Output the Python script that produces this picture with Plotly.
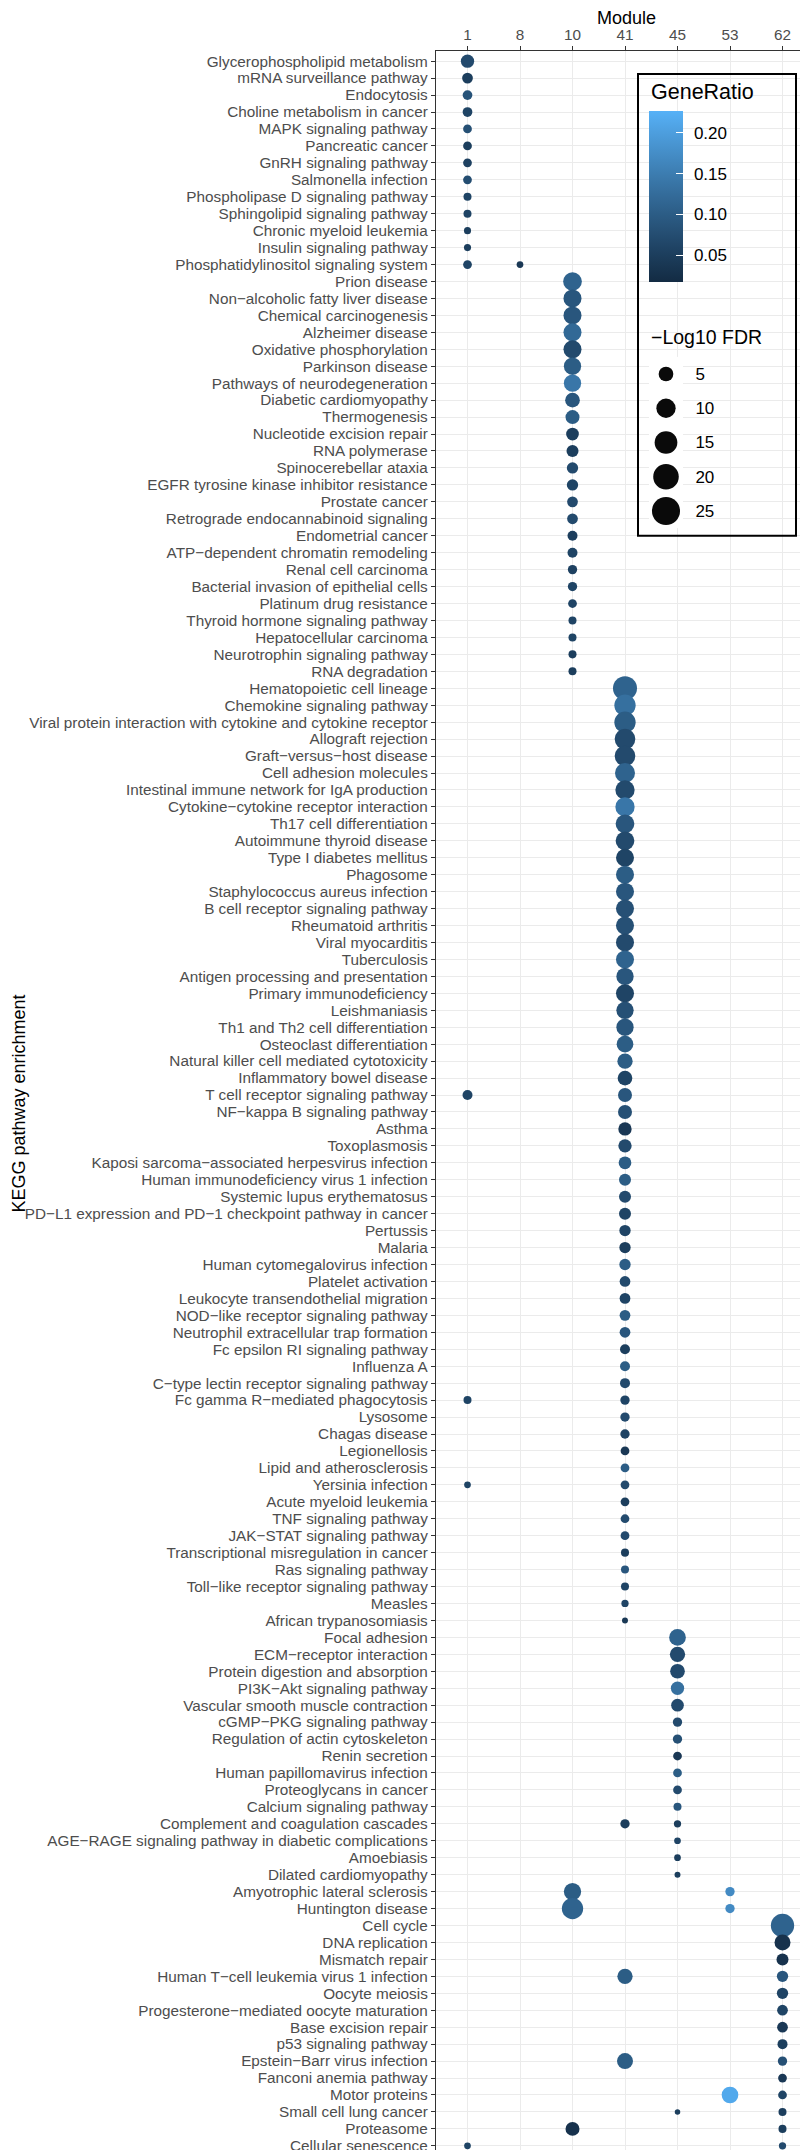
import math
import plotly.graph_objects as go

# ---------------- data ----------------
modules = ["1", "8", "10", "41", "45", "53", "62"]

pathways = [
    "Glycerophospholipid metabolism", "mRNA surveillance pathway", "Endocytosis",
    "Choline metabolism in cancer", "MAPK signaling pathway", "Pancreatic cancer",
    "GnRH signaling pathway", "Salmonella infection", "Phospholipase D signaling pathway",
    "Sphingolipid signaling pathway", "Chronic myeloid leukemia", "Insulin signaling pathway",
    "Phosphatidylinositol signaling system",
    "Prion disease", "Non-alcoholic fatty liver disease", "Chemical carcinogenesis",
    "Alzheimer disease", "Oxidative phosphorylation", "Parkinson disease",
    "Pathways of neurodegeneration", "Diabetic cardiomyopathy", "Thermogenesis",
    "Nucleotide excision repair", "RNA polymerase", "Spinocerebellar ataxia",
    "EGFR tyrosine kinase inhibitor resistance", "Prostate cancer",
    "Retrograde endocannabinoid signaling", "Endometrial cancer",
    "ATP-dependent chromatin remodeling", "Renal cell carcinoma",
    "Bacterial invasion of epithelial cells", "Platinum drug resistance",
    "Thyroid hormone signaling pathway", "Hepatocellular carcinoma",
    "Neurotrophin signaling pathway", "RNA degradation",
    "Hematopoietic cell lineage", "Chemokine signaling pathway",
    "Viral protein interaction with cytokine and cytokine receptor", "Allograft rejection",
    "Graft-versus-host disease", "Cell adhesion molecules",
    "Intestinal immune network for IgA production", "Cytokine-cytokine receptor interaction",
    "Th17 cell differentiation", "Autoimmune thyroid disease", "Type I diabetes mellitus",
    "Phagosome", "Staphylococcus aureus infection", "B cell receptor signaling pathway",
    "Rheumatoid arthritis", "Viral myocarditis", "Tuberculosis",
    "Antigen processing and presentation", "Primary immunodeficiency", "Leishmaniasis",
    "Th1 and Th2 cell differentiation", "Osteoclast differentiation",
    "Natural killer cell mediated cytotoxicity", "Inflammatory bowel disease",
    "T cell receptor signaling pathway", "NF-kappa B signaling pathway", "Asthma",
    "Toxoplasmosis", "Kaposi sarcoma-associated herpesvirus infection",
    "Human immunodeficiency virus 1 infection", "Systemic lupus erythematosus",
    "PD-L1 expression and PD-1 checkpoint pathway in cancer", "Pertussis", "Malaria",
    "Human cytomegalovirus infection", "Platelet activation",
    "Leukocyte transendothelial migration", "NOD-like receptor signaling pathway",
    "Neutrophil extracellular trap formation", "Fc epsilon RI signaling pathway",
    "Influenza A", "C-type lectin receptor signaling pathway",
    "Fc gamma R-mediated phagocytosis", "Lysosome", "Chagas disease", "Legionellosis",
    "Lipid and atherosclerosis", "Yersinia infection", "Acute myeloid leukemia",
    "TNF signaling pathway", "JAK-STAT signaling pathway",
    "Transcriptional misregulation in cancer", "Ras signaling pathway",
    "Toll-like receptor signaling pathway", "Measles", "African trypanosomiasis",
    "Focal adhesion", "ECM-receptor interaction", "Protein digestion and absorption",
    "PI3K-Akt signaling pathway", "Vascular smooth muscle contraction",
    "cGMP-PKG signaling pathway", "Regulation of actin cytoskeleton", "Renin secretion",
    "Human papillomavirus infection", "Proteoglycans in cancer", "Calcium signaling pathway",
    "Complement and coagulation cascades",
    "AGE-RAGE signaling pathway in diabetic complications", "Amoebiasis",
    "Dilated cardiomyopathy",
    "Amyotrophic lateral sclerosis", "Huntington disease",
    "Cell cycle", "DNA replication", "Mismatch repair",
    "Human T-cell leukemia virus 1 infection", "Oocyte meiosis",
    "Progesterone-mediated oocyte maturation", "Base excision repair",
    "p53 signaling pathway", "Epstein-Barr virus infection", "Fanconi anemia pathway",
    "Motor proteins", "Small cell lung cancer", "Proteasome", "Cellular senescence",
]

# module 1
m1_pathway = ["Glycerophospholipid metabolism", "mRNA surveillance pathway", "Endocytosis",
              "Choline metabolism in cancer", "MAPK signaling pathway", "Pancreatic cancer",
              "GnRH signaling pathway", "Salmonella infection",
              "Phospholipase D signaling pathway", "Sphingolipid signaling pathway",
              "Chronic myeloid leukemia", "Insulin signaling pathway",
              "Phosphatidylinositol signaling system", "T cell receptor signaling pathway",
              "Fc gamma R-mediated phagocytosis", "Yersinia infection", "Cellular senescence"]
m1_fdr = [3.9, 2.3, 1.85, 1.85, 1.5, 1.5, 1.5, 1.5, 1.3, 1.3, 1.12, 1.12, 1.5, 1.95, 1.3, 1.07, 1.07]
m1_ratio = [0.07, 0.05, 0.085, 0.06, 0.08, 0.05, 0.055, 0.075, 0.06, 0.06, 0.05, 0.05,
            0.06, 0.06, 0.06, 0.06, 0.06]

# module 8
m8_pathway = ["Phosphatidylinositol signaling system"]
m8_fdr = [1.07]
m8_ratio = [0.04]

# module 10
m10_pathway = ["Prion disease", "Non-alcoholic fatty liver disease", "Chemical carcinogenesis",
               "Alzheimer disease", "Oxidative phosphorylation", "Parkinson disease",
               "Pathways of neurodegeneration", "Diabetic cardiomyopathy", "Thermogenesis",
               "Nucleotide excision repair", "RNA polymerase", "Spinocerebellar ataxia",
               "EGFR tyrosine kinase inhibitor resistance", "Prostate cancer",
               "Retrograde endocannabinoid signaling", "Endometrial cancer",
               "ATP-dependent chromatin remodeling", "Renal cell carcinoma",
               "Bacterial invasion of epithelial cells", "Platinum drug resistance",
               "Thyroid hormone signaling pathway", "Hepatocellular carcinoma",
               "Neurotrophin signaling pathway", "RNA degradation",
               "Amyotrophic lateral sclerosis", "Huntington disease", "Proteasome"]
m10_fdr = [9.2, 8.4, 8.4, 8.4, 8.4, 7.6, 7.6, 5.0, 4.4, 3.45, 3.0, 2.6, 2.6, 2.3, 2.3,
           1.95, 1.95, 1.7, 1.7, 1.5, 1.3, 1.3, 1.3, 1.3, 7.6, 12.8, 4.4]
m10_ratio = [0.11, 0.09, 0.09, 0.12, 0.07, 0.10, 0.14, 0.09, 0.10, 0.05, 0.05, 0.07, 0.06,
             0.07, 0.07, 0.05, 0.06, 0.055, 0.06, 0.06, 0.06, 0.06, 0.05, 0.05, 0.10, 0.11,
             0.03]

# module 41
m41_pathway = ["Hematopoietic cell lineage", "Chemokine signaling pathway",
               "Viral protein interaction with cytokine and cytokine receptor",
               "Allograft rejection", "Graft-versus-host disease", "Cell adhesion molecules",
               "Intestinal immune network for IgA production",
               "Cytokine-cytokine receptor interaction", "Th17 cell differentiation",
               "Autoimmune thyroid disease", "Type I diabetes mellitus", "Phagosome",
               "Staphylococcus aureus infection", "B cell receptor signaling pathway",
               "Rheumatoid arthritis", "Viral myocarditis", "Tuberculosis",
               "Antigen processing and presentation", "Primary immunodeficiency",
               "Leishmaniasis", "Th1 and Th2 cell differentiation", "Osteoclast differentiation",
               "Natural killer cell mediated cytotoxicity", "Inflammatory bowel disease",
               "T cell receptor signaling pathway", "NF-kappa B signaling pathway", "Asthma",
               "Toxoplasmosis", "Kaposi sarcoma-associated herpesvirus infection",
               "Human immunodeficiency virus 1 infection", "Systemic lupus erythematosus",
               "PD-L1 expression and PD-1 checkpoint pathway in cancer", "Pertussis",
               "Malaria", "Human cytomegalovirus infection", "Platelet activation",
               "Leukocyte transendothelial migration", "NOD-like receptor signaling pathway",
               "Neutrophil extracellular trap formation", "Fc epsilon RI signaling pathway",
               "Influenza A", "C-type lectin receptor signaling pathway",
               "Fc gamma R-mediated phagocytosis", "Lysosome", "Chagas disease",
               "Legionellosis", "Lipid and atherosclerosis", "Yersinia infection",
               "Acute myeloid leukemia", "TNF signaling pathway", "JAK-STAT signaling pathway",
               "Transcriptional misregulation in cancer", "Ras signaling pathway",
               "Toll-like receptor signaling pathway", "Measles", "African trypanosomiasis",
               "Complement and coagulation cascades",
               "Human T-cell leukemia virus 1 infection", "Epstein-Barr virus infection"]
m41_fdr = [17.2, 12.8, 12.8, 11.9, 11.9, 10.9, 10.0, 10.0, 9.2, 9.2, 8.4, 8.4, 8.4, 8.4,
           8.4, 8.4, 8.4, 7.6, 8.4, 7.6, 7.6, 6.9, 5.5, 5.0, 4.4, 4.4, 3.9, 3.9, 3.45, 3.0,
           3.0, 3.0, 2.6, 2.6, 2.6, 2.3, 2.3, 2.3, 2.3, 1.95, 1.95, 1.95, 1.7, 1.7, 1.7,
           1.5, 1.5, 1.5, 1.5, 1.5, 1.5, 1.3, 1.3, 1.3, 1.15, 1.01, 1.7, 5.5, 6.2]
m41_ratio = [0.11, 0.13, 0.10, 0.07, 0.07, 0.11, 0.07, 0.14, 0.09, 0.07, 0.06, 0.10, 0.09,
             0.08, 0.08, 0.07, 0.11, 0.09, 0.06, 0.08, 0.09, 0.10, 0.10, 0.06, 0.09, 0.08,
             0.04, 0.07, 0.10, 0.10, 0.07, 0.06, 0.06, 0.05, 0.10, 0.07, 0.06, 0.10, 0.09,
             0.05, 0.10, 0.07, 0.06, 0.07, 0.06, 0.04, 0.10, 0.07, 0.05, 0.07, 0.07, 0.05,
             0.09, 0.06, 0.06, 0.04, 0.05, 0.10, 0.10]

# module 45
m45_pathway = ["Focal adhesion", "ECM-receptor interaction", "Protein digestion and absorption",
               "PI3K-Akt signaling pathway", "Vascular smooth muscle contraction",
               "cGMP-PKG signaling pathway", "Regulation of actin cytoskeleton",
               "Renin secretion", "Human papillomavirus infection", "Proteoglycans in cancer",
               "Calcium signaling pathway", "Complement and coagulation cascades",
               "AGE-RAGE signaling pathway in diabetic complications", "Amoebiasis",
               "Dilated cardiomyopathy", "Small cell lung cancer"]
m45_fdr = [6.9, 5.5, 5.0, 3.9, 3.45, 1.7, 1.7, 1.5, 1.5, 1.5, 1.3, 1.15, 1.07, 1.07, 1.01, 1.0]
m45_ratio = [0.11, 0.07, 0.07, 0.13, 0.07, 0.07, 0.08, 0.04, 0.10, 0.07, 0.09, 0.05, 0.06,
             0.05, 0.05, 0.05]

# module 53
m53_pathway = ["Amyotrophic lateral sclerosis", "Huntington disease", "Motor proteins"]
m53_fdr = [1.7, 1.7, 6.9]
m53_ratio = [0.17, 0.17, 0.215]

# module 62
m62_pathway = ["Cell cycle", "DNA replication", "Mismatch repair",
               "Human T-cell leukemia virus 1 infection", "Oocyte meiosis",
               "Progesterone-mediated oocyte maturation", "Base excision repair",
               "p53 signaling pathway", "Epstein-Barr virus infection",
               "Fanconi anemia pathway", "Motor proteins", "Small cell lung cancer",
               "Proteasome", "Cellular senescence"]
m62_fdr = [16.0, 6.2, 3.0, 2.6, 2.6, 2.3, 2.3, 1.95, 1.7, 1.5, 1.5, 1.3, 1.3, 1.15]
m62_ratio = [0.11, 0.03, 0.03, 0.09, 0.06, 0.06, 0.04, 0.05, 0.08, 0.04, 0.06, 0.05, 0.05,
             0.07]

size_legend_values = [5, 10, 15, 20, 25]
ratio_tick_values = [0.05, 0.10, 0.15, 0.20]
ratio_limits = [0.0169, 0.2266]

# ---------------- assemble ----------------
groups = [("1", m1_pathway, m1_fdr, m1_ratio), ("8", m8_pathway, m8_fdr, m8_ratio),
          ("10", m10_pathway, m10_fdr, m10_ratio), ("41", m41_pathway, m41_fdr, m41_ratio),
          ("45", m45_pathway, m45_fdr, m45_ratio), ("53", m53_pathway, m53_fdr, m53_ratio),
          ("62", m62_pathway, m62_fdr, m62_ratio)]


def disp(s):
    return s.replace("-", "\u2212")


dot_module, dot_pathway, dot_fdr, dot_ratio = [], [], [], []
for mod, pw, fdr, ratio in groups:
    for p, f, r in zip(pw, fdr, ratio):
        dot_module.append(mod)
        dot_pathway.append(disp(p))
        dot_fdr.append(f)
        dot_ratio.append(r)


def diameter(v):
    # area-type size scale (like ggplot scale_size)
    return 5.5 + 4.6 * math.sqrt(max(v - 1.0, 0.0))


# ggplot default gradient (#132B43 -> #56B1F7), interpolated in Lab
def hex_to_rgb(h):
    h = h.lstrip("#")
    return [int(h[i:i + 2], 16) / 255 for i in (0, 2, 4)]


def srgb_to_lin(c):
    return c / 12.92 if c <= 0.04045 else ((c + 0.055) / 1.055) ** 2.4


def lin_to_srgb(c):
    c = min(max(c, 0), 1)
    return 12.92 * c if c <= 0.0031308 else 1.055 * c ** (1 / 2.4) - 0.055


WP = (0.95047, 1.0, 1.08883)


def rgb_to_lab(rgb):
    r, g, b = [srgb_to_lin(c) for c in rgb]
    X = 0.4124 * r + 0.3576 * g + 0.1805 * b
    Y = 0.2126 * r + 0.7152 * g + 0.0722 * b
    Z = 0.0193 * r + 0.1192 * g + 0.9505 * b

    def f(t):
        return t ** (1 / 3) if t > 0.008856 else 7.787 * t + 16 / 116
    fx, fy, fz = f(X / WP[0]), f(Y / WP[1]), f(Z / WP[2])
    return (116 * fy - 16, 500 * (fx - fy), 200 * (fy - fz))


def lab_to_hex(lab):
    L, a, b = lab
    fy = (L + 16) / 116
    fx = fy + a / 500
    fz = fy - b / 200

    def finv(t):
        return t ** 3 if t ** 3 > 0.008856 else (t - 16 / 116) / 7.787
    X, Y, Z = finv(fx) * WP[0], finv(fy) * WP[1], finv(fz) * WP[2]
    r = 3.2406 * X - 1.5372 * Y - 0.4986 * Z
    g = -0.9689 * X + 1.8758 * Y + 0.0415 * Z
    bb = 0.0557 * X - 0.2040 * Y + 1.0570 * Z
    return "#" + "".join("%02x" % round(lin_to_srgb(c) * 255) for c in (r, g, bb))


lo, hi = rgb_to_lab(hex_to_rgb("#132B43")), rgb_to_lab(hex_to_rgb("#56B1F7"))
colorscale = []
for i in range(11):
    t = i / 10
    colorscale.append([t, lab_to_hex(tuple(lo[k] + (hi[k] - lo[k]) * t for k in range(3)))])

FONT = "Liberation Sans, Arial, Helvetica, sans-serif"

# ---------------- figure ----------------
fig = go.Figure()

fig.add_trace(go.Scatter(
    x=dot_module, y=dot_pathway, mode="markers", xaxis="x", yaxis="y",
    marker=dict(
        size=[diameter(v) for v in dot_fdr], sizemode="diameter",
        color=dot_ratio, colorscale=colorscale, cmin=ratio_limits[0], cmax=ratio_limits[1],
        line=dict(width=0), opacity=1,
        showscale=True,
        colorbar=dict(
            x=0.5627, xanchor="left", xpad=0, y=0.93074, yanchor="middle", ypad=0,
            lenmode="pixels", len=171, thicknessmode="pixels", thickness=34,
            outlinewidth=0, tickvals=ratio_tick_values,
            ticktext=["%.2f" % v for v in ratio_tick_values],
            ticks="outside", ticklen=8, tickcolor="rgba(0,0,0,0)",
            tickfont=dict(size=17, color="black", family=FONT), title=dict(text=""),
        ),
    ),
    hoverinfo="skip", showlegend=False,
))

# overlay colorbar that only carries the white inner tick marks
fig.add_trace(go.Scatter(
    x=dot_module, y=dot_pathway, mode="markers", xaxis="x", yaxis="y",
    marker=dict(
        size=[diameter(v) for v in dot_fdr], sizemode="diameter",
        color=dot_ratio, colorscale=colorscale, cmin=ratio_limits[0], cmax=ratio_limits[1],
        opacity=0, line=dict(width=0),
        showscale=True,
        colorbar=dict(
            x=0.5627, xanchor="left", xpad=0, y=0.93074, yanchor="middle", ypad=0,
            lenmode="pixels", len=171, thicknessmode="pixels", thickness=34,
            outlinewidth=0, tickvals=ratio_tick_values, showticklabels=False,
            ticks="inside", ticklen=7, tickwidth=1, tickcolor="white",
            title=dict(text=""),
        ),
    ),
    hoverinfo="skip", showlegend=False,
))

# size legend (drawn on its own small axes inside the legend box)
fig.add_trace(go.Scatter(
    x=[0] * len(size_legend_values), y=[str(v) for v in size_legend_values],
    mode="markers", xaxis="x2", yaxis="y2",
    marker=dict(size=[diameter(v) for v in size_legend_values], sizemode="diameter",
                color="#0A0A0A", opacity=1, line=dict(width=0)),
    hoverinfo="skip", showlegend=False,
))

axis_common = dict(
    type="category", showgrid=True, gridcolor="#EBEBEB", gridwidth=1.3, zeroline=False,
    showline=True, mirror=True, linecolor="#333333", linewidth=1.3,
    ticks="outside", ticklen=4, tickwidth=1.2, tickcolor="#333333",
    tickfont=dict(size=15.3, color="#4D4D4D", family=FONT),
)

y_labels = [disp(p) for p in pathways]

fig.update_layout(
    width=808, height=2150,
    margin=dict(l=428, r=2, t=43, b=2, pad=0),
    paper_bgcolor="white", plot_bgcolor="white",
    font=dict(family=FONT, color="black"),
    showlegend=False,
    xaxis=dict(categoryorder="array", categoryarray=modules, range=[-0.6, 6.6], side="top",
               tickmode="array", tickvals=modules, ticktext=modules, **axis_common),
    yaxis=dict(categoryorder="array", categoryarray=y_labels,
               tickmode="array", tickvals=y_labels, ticktext=y_labels,
               range=[len(pathways) - 0.4, -0.6], **axis_common),
    xaxis2=dict(domain=[0.5635, 0.6534], anchor="y2", range=[-1, 1], visible=False,
                fixedrange=True),
    yaxis2=dict(domain=[0.77335, 0.85468], anchor="x2", type="category",
                categoryorder="array", categoryarray=[str(v) for v in size_legend_values],
                range=[len(size_legend_values) - 0.5, -0.5], side="right",
                showgrid=False, zeroline=False, showline=False,
                ticks="outside", ticklen=8, tickcolor="rgba(0,0,0,0)",
                tickfont=dict(size=17, color="black", family=FONT)),
    shapes=[dict(type="rect", xref="paper", yref="paper", x0=0.5344, x1=0.9524,
                 y0=0.76974, y1=0.98907, line=dict(color="black", width=2),
                 fillcolor="rgba(0,0,0,0)", layer="above")],
    annotations=[
        dict(text="Module", xref="paper", yref="paper", x=0.503, y=1.01568,
             xanchor="center", yanchor="middle", showarrow=False,
             font=dict(size=18, color="black", family=FONT)),
        dict(text="KEGG pathway enrichment", xref="paper", yref="paper", x=-1.1058, y=0.5,
             xanchor="center", yanchor="middle", textangle=-90, showarrow=False,
             font=dict(size=18, color="black", family=FONT)),
        dict(text="GeneRatio", xref="paper", yref="paper", x=0.5635, y=0.98052,
             xanchor="left", yanchor="middle", showarrow=False,
             font=dict(size=21.5, color="black", family=FONT)),
        dict(text="\u2212Log10 FDR", xref="paper", yref="paper", x=0.5640, y=0.86413,
             xanchor="left", yanchor="middle", showarrow=False,
             font=dict(size=19.5, color="black", family=FONT)),
    ],
)

fig.write_html("out.html")
